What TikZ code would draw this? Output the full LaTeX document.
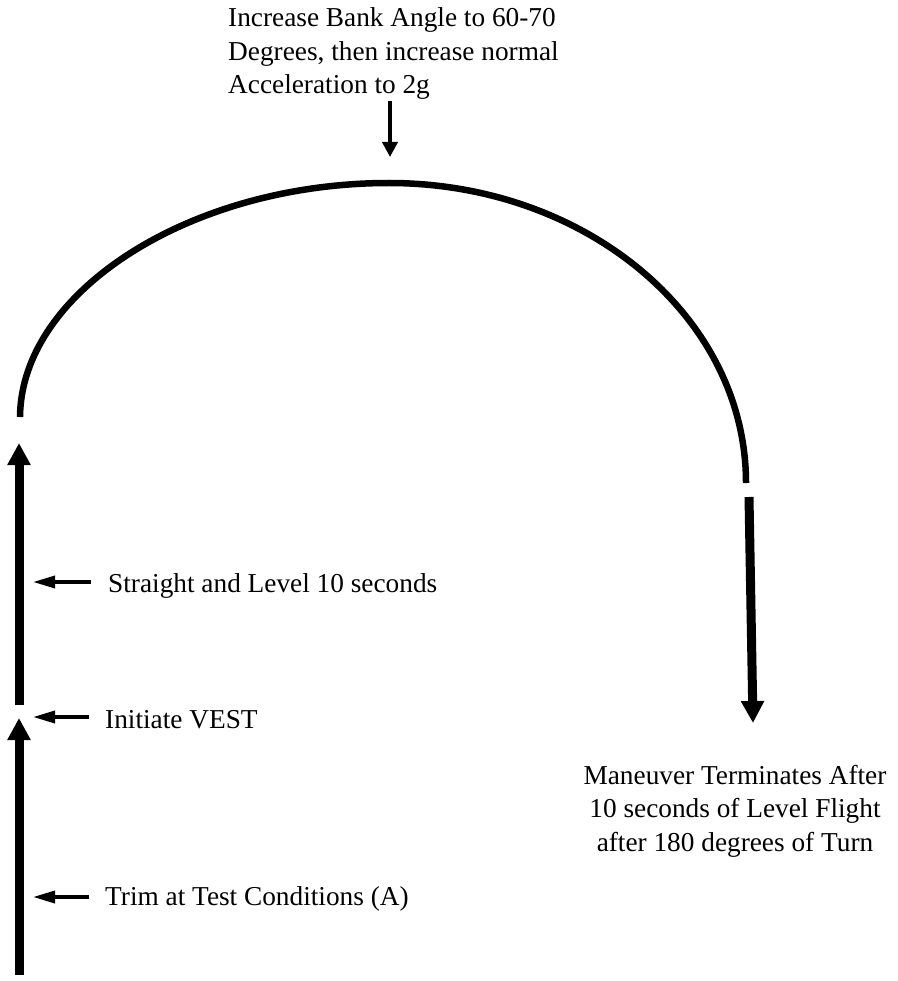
\documentclass[tikz,border=0pt]{standalone}
\usepackage{fontspec}
\setmainfont{Liberation Serif}
\usetikzlibrary{arrows.meta}

\tikzset{
  label text/.style={inner sep=0pt, font=\fontsize{27.3}{33.5}\selectfont},
  flight/.style={line width=9pt, -{Triangle[length=22pt,width=22pt]}},
  turn/.style={line width=6.5pt},
  pointer/.style={line width=3.5pt, -{Triangle[length=22pt,width=12pt]}},
  cue/.style={line width=4pt, -{Triangle[length=15pt,width=15pt]}}
}

\begin{document}
\begin{tikzpicture}[x=1pt, y=-1pt]
  \useasboundingbox (0,0) rectangle (897,981);

  % flight path points
  \coordinate (start)   at (19,975);
  \coordinate (vest)    at (19,718);
  \coordinate (level0)  at (19,705);
  \coordinate (level1)  at (19,443);
  \coordinate (turn0)   at (20,417);
  \coordinate (apex)    at (389,183);
  \coordinate (turn1)   at (746,483);
  \coordinate (exit0)   at (749,497);
  \coordinate (exit1)   at (753,723);

  % labels (base anchor of a multi-line node sits on its last line)
  \node[label text, anchor=base west, align=left] (bank) at (228,94)
    {Increase Bank Angle to 60-70\\Degrees, then increase normal\\Acceleration to 2g};
  \node[label text, anchor=base west] (slevel) at (108,592) {Straight and Level 10 seconds};
  \node[label text, anchor=base west] (init) at (105,728) {Initiate VEST};
  \node[label text, anchor=base west] (trim) at (105,905) {Trim at Test Conditions (A)};
  \node[label text, anchor=base, align=center] (term) at (735,851)
    {Maneuver Terminates After\\10 seconds of Level Flight\\after 180 degrees of Turn};

  % pointer ends
  \coordinate (bankA) at (390,101);
  \coordinate (bankB) at (390,157);
  \coordinate (slevA) at (91,582);
  \coordinate (slevB) at (33,582);
  \coordinate (initA) at (89,717);
  \coordinate (initB) at (33,717);
  \coordinate (trimA) at (89,897);
  \coordinate (trimB) at (33,897);

  % flight path
  \draw[flight] (start) -- (vest);
  \draw[flight] (level0) -- (level1);
  \draw[turn] (turn0) .. controls (21,292) and (190,183) .. (apex)
                      .. controls (586,183) and (746,317) .. (turn1);
  \draw[flight] (exit0) -- (exit1);

  % pointers
  \draw[cue] (bankA) -- (bankB);
  \draw[pointer] (slevA) -- (slevB);
  \draw[pointer] (initA) -- (initB);
  \draw[pointer] (trimA) -- (trimB);
\end{tikzpicture}
\end{document}
